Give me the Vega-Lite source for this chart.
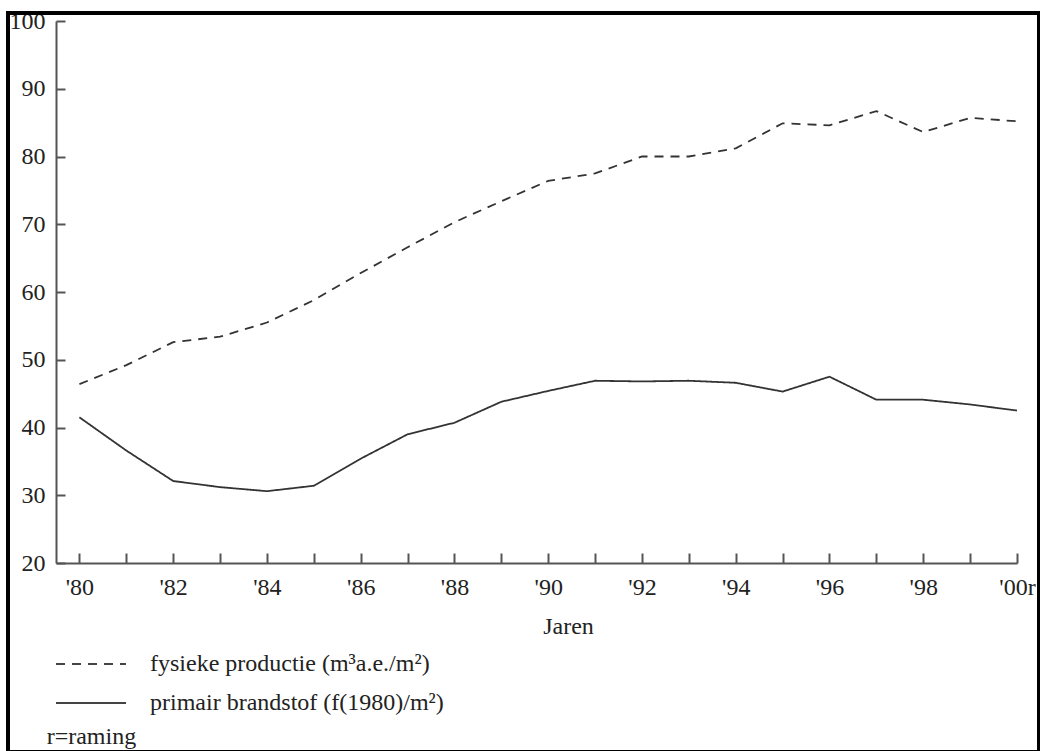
{
  "$schema": "https://vega.github.io/schema/vega-lite/v6.json",
  "width": 961,
  "height": 542,
  "autosize": "none",
  "padding": {"left": 56, "top": 21, "right": 23, "bottom": 188},
  "background": "white",
  "config": {
    "view": {"stroke": null},
    "font": "Liberation Serif",
    "axis": {"labelFont": "Liberation Serif", "titleFont": "Liberation Serif", "labelColor": "#222", "titleColor": "#222", "grid": false, "domainColor": "#555", "tickColor": "#555", "domainWidth": 2, "tickWidth": 2},
    "legend": {"labelFont": "Liberation Serif", "labelColor": "#222"}
  },
  "title": {"text": "r=raming", "orient": "bottom", "anchor": "start", "font": "Liberation Serif", "fontSize": 24, "fontWeight": "normal", "color": "#222", "offset": -29, "dx": 40},
  "data": {"values": [
    {"year": 1980, "series": "fysieke productie (m³a.e./m²)", "value": 46.4},
    {"year": 1981, "series": "fysieke productie (m³a.e./m²)", "value": 49.2},
    {"year": 1982, "series": "fysieke productie (m³a.e./m²)", "value": 52.6},
    {"year": 1983, "series": "fysieke productie (m³a.e./m²)", "value": 53.4},
    {"year": 1984, "series": "fysieke productie (m³a.e./m²)", "value": 55.5},
    {"year": 1985, "series": "fysieke productie (m³a.e./m²)", "value": 58.8},
    {"year": 1986, "series": "fysieke productie (m³a.e./m²)", "value": 62.8},
    {"year": 1987, "series": "fysieke productie (m³a.e./m²)", "value": 66.6},
    {"year": 1988, "series": "fysieke productie (m³a.e./m²)", "value": 70.3},
    {"year": 1989, "series": "fysieke productie (m³a.e./m²)", "value": 73.4},
    {"year": 1990, "series": "fysieke productie (m³a.e./m²)", "value": 76.4},
    {"year": 1991, "series": "fysieke productie (m³a.e./m²)", "value": 77.5},
    {"year": 1992, "series": "fysieke productie (m³a.e./m²)", "value": 80.0},
    {"year": 1993, "series": "fysieke productie (m³a.e./m²)", "value": 80.0},
    {"year": 1994, "series": "fysieke productie (m³a.e./m²)", "value": 81.2},
    {"year": 1995, "series": "fysieke productie (m³a.e./m²)", "value": 84.9},
    {"year": 1996, "series": "fysieke productie (m³a.e./m²)", "value": 84.6},
    {"year": 1997, "series": "fysieke productie (m³a.e./m²)", "value": 86.7},
    {"year": 1998, "series": "fysieke productie (m³a.e./m²)", "value": 83.6},
    {"year": 1999, "series": "fysieke productie (m³a.e./m²)", "value": 85.7},
    {"year": 2000, "series": "fysieke productie (m³a.e./m²)", "value": 85.2},
    {"year": 1980, "series": "primair brandstof (f(1980)/m²)", "value": 41.5},
    {"year": 1981, "series": "primair brandstof (f(1980)/m²)", "value": 36.6},
    {"year": 1982, "series": "primair brandstof (f(1980)/m²)", "value": 32.1},
    {"year": 1983, "series": "primair brandstof (f(1980)/m²)", "value": 31.2},
    {"year": 1984, "series": "primair brandstof (f(1980)/m²)", "value": 30.6},
    {"year": 1985, "series": "primair brandstof (f(1980)/m²)", "value": 31.4},
    {"year": 1986, "series": "primair brandstof (f(1980)/m²)", "value": 35.4},
    {"year": 1987, "series": "primair brandstof (f(1980)/m²)", "value": 39.0},
    {"year": 1988, "series": "primair brandstof (f(1980)/m²)", "value": 40.7},
    {"year": 1989, "series": "primair brandstof (f(1980)/m²)", "value": 43.8},
    {"year": 1990, "series": "primair brandstof (f(1980)/m²)", "value": 45.4},
    {"year": 1991, "series": "primair brandstof (f(1980)/m²)", "value": 46.9},
    {"year": 1992, "series": "primair brandstof (f(1980)/m²)", "value": 46.8},
    {"year": 1993, "series": "primair brandstof (f(1980)/m²)", "value": 46.9},
    {"year": 1994, "series": "primair brandstof (f(1980)/m²)", "value": 46.6},
    {"year": 1995, "series": "primair brandstof (f(1980)/m²)", "value": 45.3},
    {"year": 1996, "series": "primair brandstof (f(1980)/m²)", "value": 47.5},
    {"year": 1997, "series": "primair brandstof (f(1980)/m²)", "value": 44.1},
    {"year": 1998, "series": "primair brandstof (f(1980)/m²)", "value": 44.1},
    {"year": 1999, "series": "primair brandstof (f(1980)/m²)", "value": 43.4},
    {"year": 2000, "series": "primair brandstof (f(1980)/m²)", "value": 42.5}
  ]},
  "layer": [
    {
      "mark": {"type": "line", "color": "#333", "strokeWidth": 1.8},
      "encoding": {
        "x": {"field": "year", "type": "quantitative", "scale": {"domain": [1979.5, 2000], "nice": false, "zero": false},
          "axis": {"title": "Jaren", "titleFontSize": 24, "titleFontWeight": "normal", "titlePadding": 15, "titleX": 512,
            "values": [1980,1981,1982,1983,1984,1985,1986,1987,1988,1989,1990,1991,1992,1993,1994,1995,1996,1997,1998,1999,2000],
            "labelExpr": "datum.value % 2 == 0 ? \"'\" + substring(toString(datum.value), 2) + (datum.value == 2000 ? 'r' : '') : ''",
            "labelFontSize": 24, "tickSize": -10, "labelPadding": 22, "labelFlush": false, "labelOverlap": false}},
        "y": {"field": "value", "type": "quantitative", "scale": {"domain": [20, 100], "nice": false, "zero": false},
          "axis": {"title": null, "values": [20,30,40,50,60,70,80,90,100], "labelFontSize": 24, "tickSize": -9, "labelPadding": 20, "labelFlush": false, "labelOverlap": false}},
        "strokeDash": {"field": "series", "type": "nominal",
          "scale": {"domain": ["fysieke productie (m³a.e./m²)", "primair brandstof (f(1980)/m²)"], "range": [[9, 7], [1, 0]]},
          "legend": {"title": null, "orient": "none", "legendX": 20, "legendY": 628, "padding": 0, "symbolType": "M-2.5,0L2.5,0", "symbolSize": 784, "symbolStrokeWidth": 2, "symbolStrokeColor": "#444", "symbolFillColor": "transparent", "labelFontSize": 24, "labelOffset": 44, "labelLimit": 0, "rowPadding": 12}}
      }
    },
    {
      "mark": {"type": "rect", "fill": null, "stroke": "black", "strokeWidth": 3, "clip": false},
      "encoding": {
        "x": {"datum": 1978.48, "type": "quantitative"},
        "x2": {"datum": 2000.47},
        "y": {"datum": 101.21, "type": "quantitative"},
        "y2": {"datum": -7.9}
      }
    }
  ]
}
